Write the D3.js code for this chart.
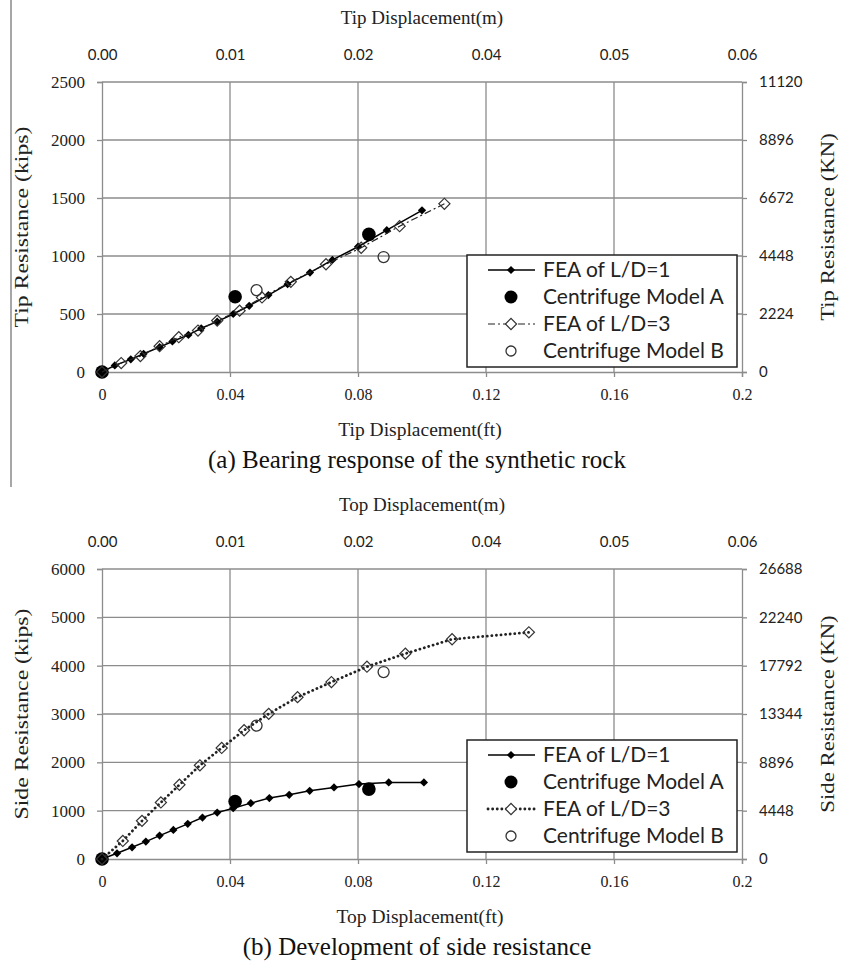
<!DOCTYPE html>
<html lang="en">
<style>

body { margin: 0; background: #fff; }

.grid line {
  stroke: #8c8c8c;
  stroke-width: 1.3px;
}

.axis path, .axis line {
  stroke: #8c8c8c;
  stroke-width: 1.3px;
}

</style>

<script type="text/javascript" src="https://d3js.org/d3.v7.min.js"></script>
<body>
  <script type="text/javascript">

// Page size
var width = 842,
    height = 968;

var serif = "'Liberation Serif', 'Times New Roman', serif",
    sans = "Lato, 'Open Sans', sans-serif";

var svg = d3.select("body")
            .append("svg")
            .attr("width", width)
            .attr("height", height);

// Shared x axis (displacement in ft) and its metre labels on top
var xTicks = [0, 0.04, 0.08, 0.12, 0.16, 0.2];
var mTickLabels = ["0.00", "0.01", "0.02", "0.04", "0.05", "0.06"];

// (a) Bearing response - tip resistance (kips)
var tipTicks = [0, 500, 1000, 1500, 2000, 2500];
var tipKnTicks = [0, 2224, 4448, 6672, 8896, 11120];

var tipFea1X = [0, 0.004, 0.009, 0.013, 0.018, 0.022, 0.027, 0.031, 0.036, 0.041, 0.046, 0.052, 0.058, 0.065, 0.072, 0.080, 0.089, 0.100];
var tipFea1Y = [0, 57, 109, 157, 214, 263, 320, 377, 434, 500, 571, 663, 757, 857, 966, 1080, 1223, 1394];

var tipFea3X = [0, 0.006, 0.012, 0.018, 0.024, 0.030, 0.036, 0.043, 0.050, 0.059, 0.070, 0.081, 0.093, 0.107];
var tipFea3Y = [0, 77, 137, 223, 300, 357, 443, 529, 643, 777, 929, 1071, 1257, 1450];

var tipModelAX = [0, 0.0416, 0.0834];
var tipModelAY = [0, 649, 1186];
var tipModelBX = [0.0483, 0.088];
var tipModelBY = [706, 991];

// (b) Development of side resistance (kips)
var sideTicks = [0, 1000, 2000, 3000, 4000, 5000, 6000];
var sideKnTicks = [0, 4448, 8896, 13344, 17792, 22240, 26688];

var sideFea1X = [0, 0.0047, 0.0094, 0.0137, 0.018, 0.0223, 0.0268, 0.0314, 0.036, 0.041, 0.0465, 0.0523, 0.0585, 0.0649, 0.0725, 0.0803, 0.0896, 0.1006];
var sideFea1Y = [0, 118, 242, 360, 484, 602, 727, 858, 960, 1052, 1156, 1260, 1329, 1412, 1481, 1550, 1585, 1585];

var sideFea3X = [0, 0.0065, 0.0125, 0.0184, 0.0242, 0.0306, 0.0374, 0.0444, 0.0521, 0.0611, 0.0717, 0.0828, 0.0948, 0.1094, 0.1334];
var sideFea3Y = [0, 374, 789, 1170, 1536, 1938, 2298, 2664, 3003, 3349, 3661, 3979, 4249, 4547, 4690];

var sideModelAX = [0, 0.0416, 0.0834];
var sideModelAY = [0, 1190, 1446];
var sideModelBX = [0.0483, 0.088];
var sideModelBY = [2761, 3868];

var legendLabels = ["FEA of L/D=1", "Centrifuge Model A", "FEA of L/D=3", "Centrifuge Model B"];

function zip(xs, ys) {
  return xs.map(function(x, i) { return {x: x, y: ys[i]}; });
}

// Left border of the page crop
svg.append("line")
    .attr("x1", 11).attr("x2", 11)
    .attr("y1", 0).attr("y2", 487)
    .attr("stroke", "#777").attr("stroke-width", 1.3);

var x = d3.scaleLinear().domain([0, 0.2]).range([102, 742]);

function styleText(sel, family, size) {
  sel.selectAll("text")
      .style("font-family", family)
      .style("font-size", size)
      .attr("fill", "#222");
}

function drawPanel(p) {
  var y = d3.scaleLinear().domain([0, p.ticks[p.ticks.length - 1]]).range([p.bottom, p.top]);
  var yKn = d3.scaleLinear().domain([0, p.knTicks[p.knTicks.length - 1]]).range([p.bottom, p.top]);
  var g = svg.append("g");

  // gridlines
  var grid = g.append("g").attr("class", "grid");
  grid.selectAll(".h").data(p.ticks.slice(1)).enter().append("line")
      .attr("x1", x(0)).attr("x2", x(0.2))
      .attr("y1", function(d) { return y(d); }).attr("y2", function(d) { return y(d); });
  grid.selectAll(".v").data(xTicks.slice(1, -1)).enter().append("line")
      .attr("x1", function(d) { return x(d); }).attr("x2", function(d) { return x(d); })
      .attr("y1", p.top).attr("y2", p.bottom);

  // axes
  var bAxis = g.append("g").attr("class", "axis")
      .attr("transform", "translate(0," + p.bottom + ")")
      .call(d3.axisBottom(x).tickValues(xTicks).tickFormat(d3.format("")).tickSize(5).tickPadding(12));
  styleText(bAxis, serif, "16px");
  var lAxis = g.append("g").attr("class", "axis")
      .attr("transform", "translate(" + x(0) + ",0)")
      .call(d3.axisLeft(y).tickValues(p.ticks).tickFormat(d3.format("d")).tickSize(5).tickPadding(12));
  styleText(lAxis, serif, "17px");
  var rAxis = g.append("g").attr("class", "axis")
      .attr("transform", "translate(" + x(0.2) + ",0)")
      .call(d3.axisRight(yKn).tickValues(p.knTicks).tickFormat(d3.format("d")).tickSize(5).tickPadding(12));
  styleText(rAxis, sans, "15px");
  var tAxis = g.append("g").attr("class", "axis")
      .attr("transform", "translate(0," + p.top + ")")
      .call(d3.axisTop(x).tickValues(xTicks).tickSize(0).tickPadding(22)
            .tickFormat(function(d, i) { return mTickLabels[i]; }));
  tAxis.select(".domain").remove();
  styleText(tAxis, sans, "15px");

  // axis titles
  g.append("text")
      .attr("x", 422).attr("y", p.top - 58)
      .attr("text-anchor", "middle").style("font-family", serif).style("font-size", "19px").attr("fill", "#222")
      .text(p.topTitle);
  g.append("text")
      .attr("x", 420).attr("y", p.bottom + 64)
      .attr("text-anchor", "middle").style("font-family", serif).style("font-size", "19.5px").attr("fill", "#222")
      .text(p.bottomTitle);
  g.append("text")
      .attr("transform", "translate(28," + (p.top + p.bottom) / 2 + ") rotate(-90) scale(1.25,1)")
      .attr("text-anchor", "middle").style("font-family", serif).style("font-size", "19px").attr("fill", "#222")
      .text(p.leftTitle);
  g.append("text")
      .attr("transform", "translate(834," + (p.top + p.bottom) / 2 + ") rotate(-90) scale(1.2,1)")
      .attr("text-anchor", "middle").style("font-family", serif).style("font-size", "19px").attr("fill", "#222")
      .text(p.rightTitle);
  g.append("text")
      .attr("x", 417).attr("y", p.bottom + 96)
      .attr("text-anchor", "middle").style("font-family", serif).style("font-size", "25px").attr("fill", "#111")
      .text(p.caption);

  var line = d3.line().x(function(d) { return x(d.x); }).y(function(d) { return y(d.y); });
  var small = d3.symbol().type(d3.symbolSquare).size(34);
  var big = d3.symbol().type(d3.symbolSquare).size(62);

  // FEA of L/D=1
  g.append("path").datum(p.fea1)
      .attr("d", line).attr("fill", "none").attr("stroke", "#000").attr("stroke-width", 1.5);
  g.selectAll(".f1").data(p.fea1).enter().append("path")
      .attr("d", small)
      .attr("transform", function(d) { return "translate(" + x(d.x) + "," + y(d.y) + ") rotate(45)"; })
      .attr("fill", "#000");

  // Centrifuge Model A
  g.selectAll(".ma").data(p.modelA).enter().append("circle")
      .attr("cx", function(d) { return x(d.x); }).attr("cy", function(d) { return y(d.y); })
      .attr("r", 6.8).attr("fill", "#000");

  // FEA of L/D=3
  g.append("path").datum(p.fea3)
      .attr("d", line).attr("fill", "none").attr("stroke", "#222")
      .attr("stroke-width", p.fea3Width).attr("stroke-dasharray", p.fea3Dash)
      .attr("stroke-linecap", p.fea3Cap);
  g.selectAll(".f3").data(p.fea3).enter().append("path")
      .attr("d", big)
      .attr("transform", function(d) { return "translate(" + x(d.x) + "," + y(d.y) + ") rotate(45)"; })
      .attr("fill", "none").attr("stroke", "#333").attr("stroke-width", 1.2);

  // Centrifuge Model B
  g.selectAll(".mb").data(p.modelB).enter().append("circle")
      .attr("cx", function(d) { return x(d.x); }).attr("cy", function(d) { return y(d.y); })
      .attr("r", 5.5).attr("fill", "none").attr("stroke", "#333").attr("stroke-width", 1.3);

  // Legend
  var lg = g.append("g").attr("transform", "translate(467," + p.legendTop + ")");
  lg.append("rect").attr("width", 270).attr("height", 112)
      .attr("fill", "#fff").attr("stroke", "#222").attr("stroke-width", 1.5);
  legendLabels.forEach(function(label, i) {
    var ly = 15 + i * 27;
    if (i === 0) {
      lg.append("line").attr("x1", 21).attr("x2", 68).attr("y1", ly).attr("y2", ly)
          .attr("stroke", "#000").attr("stroke-width", 1.5);
      lg.append("path").attr("d", small).attr("fill", "#000")
          .attr("transform", "translate(44," + ly + ") rotate(45)");
    } else if (i === 1) {
      lg.append("circle").attr("cx", 44).attr("cy", ly).attr("r", 6.5).attr("fill", "#000");
    } else if (i === 2) {
      lg.append("line").attr("x1", 21).attr("x2", 68).attr("y1", ly).attr("y2", ly)
          .attr("stroke", "#222").attr("stroke-width", p.fea3Width)
          .attr("stroke-dasharray", p.fea3Dash).attr("stroke-linecap", p.fea3Cap);
      lg.append("path").attr("d", big).attr("fill", "#fff").attr("stroke", "#333").attr("stroke-width", 1.2)
          .attr("transform", "translate(44," + ly + ") rotate(45)");
    } else {
      lg.append("circle").attr("cx", 44).attr("cy", ly).attr("r", 5)
          .attr("fill", "none").attr("stroke", "#333").attr("stroke-width", 1.3);
    }
    lg.append("text")
        .attr("x", 76).attr("y", ly).attr("dy", "0.35em")
        .style("font-family", sans).style("font-size", "21px").attr("fill", "#222")
        .text(label);
  });
}

drawPanel({
  top: 82, bottom: 372,
  ticks: tipTicks, knTicks: tipKnTicks,
  topTitle: "Tip Displacement(m)", bottomTitle: "Tip Displacement(ft)",
  leftTitle: "Tip Resistance (kips)", rightTitle: "Tip Resistance (KN)",
  caption: "(a) Bearing response of the synthetic rock",
  fea1: zip(tipFea1X, tipFea1Y), fea3: zip(tipFea3X, tipFea3Y),
  modelA: zip(tipModelAX, tipModelAY), modelB: zip(tipModelBX, tipModelBY),
  fea3Dash: "7,3,2,3", fea3Width: 1.2, fea3Cap: "butt",
  legendTop: 255
});

drawPanel({
  top: 569, bottom: 859,
  ticks: sideTicks, knTicks: sideKnTicks,
  topTitle: "Top Displacement(m)", bottomTitle: "Top Displacement(ft)",
  leftTitle: "Side Resistance (kips)", rightTitle: "Side Resistance (KN)",
  caption: "(b) Development of side resistance",
  fea1: zip(sideFea1X, sideFea1Y), fea3: zip(sideFea3X, sideFea3Y),
  modelA: zip(sideModelAX, sideModelAY), modelB: zip(sideModelBX, sideModelBY),
  fea3Dash: "0.1,4.5", fea3Width: 2.8, fea3Cap: "round",
  legendTop: 740
});

</script>
</body>
</html>
